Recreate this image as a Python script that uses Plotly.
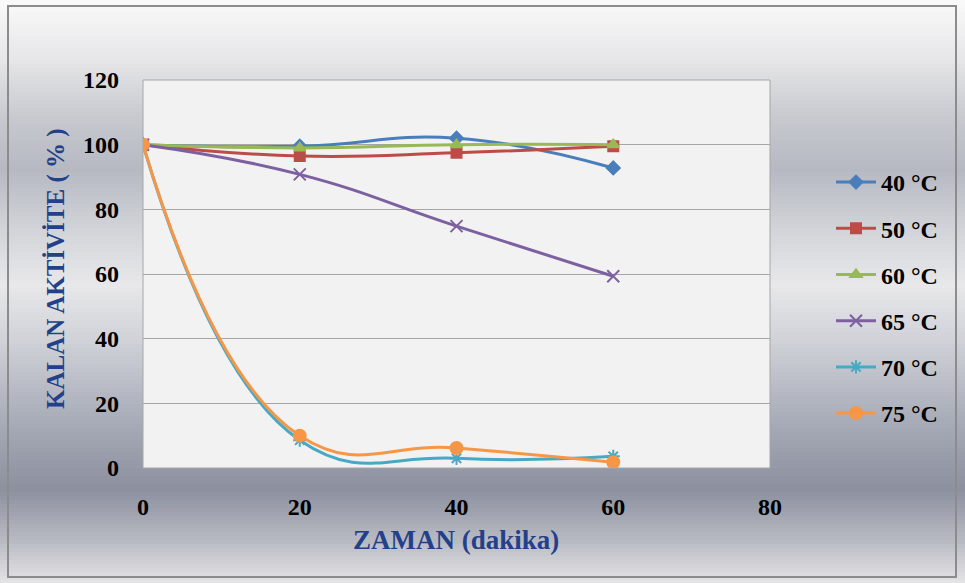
import plotly.graph_objects as go

# ---- data ----
time_min = [0, 20, 40, 60]
series_names = ["40 °C", "50 °C", "60 °C", "65 °C", "70 °C", "75 °C"]
act_40 = [100, 99.5, 102, 92.8]
act_50 = [100, 96.5, 97.5, 99.5]
act_60 = [100, 99, 100, 100]
act_65 = [100, 90.8, 74.8, 59.3]
act_70 = [100, 8.6, 3.0, 3.6]
act_75 = [100, 10.0, 6.2, 1.8]
x_ticks = [0, 20, 40, 60, 80]
y_ticks = [0, 20, 40, 60, 80, 100, 120]

colors = ["#4A7EBB", "#BE4B48", "#98B954", "#7D60A0", "#46AAC5", "#F79646"]
symbols = ["diamond", "square", "triangle-up", "x-thin", "asterisk-open", "circle"]
msizes = [10, 10, 10, 12, 11, 12]
all_vals = [act_40, act_50, act_60, act_65, act_70, act_75]

W, H = 965, 583
L, R, T, B = 143, 770, 80, 468  # plot area in px


def px_x(p):
    return (p - L) / (R - L)


def px_y(p):
    return (B - p) / (B - T)


fig = go.Figure()
for i, (name, vals) in enumerate(zip(series_names, all_vals)):
    fig.add_trace(go.Scatter(
        x=time_min, y=vals, name=name, mode="lines+markers",
        line=dict(color=colors[i], width=3, shape="spline", smoothing=1.3),
        marker=dict(symbol=symbols[i], size=msizes[i], color=colors[i],
                    line=dict(color=colors[i], width=2)),
        legendgroup=name,
    ))

# gradient background bands
stops = [(0, (250, 250, 250)), (60, (230, 230, 232)), (120, (198, 200, 206)),
         (170, (182, 185, 194)), (230, (210, 212, 217)), (285, (232, 232, 234)),
         (340, (208, 210, 216)), (420, (168, 172, 184)), (490, (140, 144, 159)),
         (540, (184, 186, 194)), (583, (228, 228, 230))]
shapes = []
step = 4
y = 0
while y < H:
    for j in range(len(stops) - 1):
        if stops[j][0] <= y <= stops[j + 1][0]:
            y0, c0 = stops[j]
            y1, c1 = stops[j + 1]
            t = (y + step / 2 - y0) / (y1 - y0)
            t = min(max(t, 0), 1)
            c = tuple(int(round(c0[k] + (c1[k] - c0[k]) * t)) for k in range(3))
            break
    shapes.append(dict(type="rect", xref="paper", yref="paper", layer="below",
                       x0=px_x(-2), x1=px_x(W + 2), y0=px_y(y + step + 0.5), y1=px_y(y),
                       fillcolor="rgb(%d,%d,%d)" % c, line=dict(width=0)))
    y += step

# plot area
shapes.append(dict(type="rect", xref="paper", yref="paper", layer="below",
                   x0=0, x1=1, y0=0, y1=1, fillcolor="#F2F2F2",
                   line=dict(color="#A6A6A6", width=1)))
# outer border
shapes.append(dict(type="rect", xref="paper", yref="paper", layer="below",
                   x0=px_x(8), x1=px_x(956), y0=px_y(577), y1=px_y(6),
                   fillcolor="rgba(0,0,0,0)", line=dict(color="#8C8C8C", width=2)))

font_serif = "Times New Roman, Liberation Serif, DejaVu Serif, serif"

fig.update_layout(
    width=W, height=H,
    margin=dict(l=L, r=W - R, t=T, b=H - B),
    paper_bgcolor="#E6E6E8",
    plot_bgcolor="rgba(0,0,0,0)",
    shapes=shapes,
    showlegend=True,
    legend=dict(x=px_x(831), y=px_y(298), xanchor="left", yanchor="middle",
                bgcolor="rgba(0,0,0,0)", tracegroupgap=12,
                font=dict(family=font_serif, size=24, color="#000000", weight="bold"),
                itemwidth=40),
    font=dict(family=font_serif),
    annotations=[
        dict(text="<b>KALAN AKTİVİTE ( % )</b>", xref="paper", yref="paper",
             x=px_x(56), y=px_y(269), textangle=-90, showarrow=False,
             font=dict(family=font_serif, size=25, color="#23418A"),
             xanchor="center", yanchor="middle"),
        dict(text="<b>ZAMAN (dakika)</b>", xref="paper", yref="paper",
             x=px_x(456), y=px_y(540), showarrow=False,
             font=dict(family=font_serif, size=27, color="#23418A"),
             xanchor="center", yanchor="middle"),
    ],
)
fig.update_xaxes(range=[0, 80], tickvals=x_ticks, ticktext=[str(v) for v in x_ticks],
                 showgrid=False, zeroline=False, showline=False,
                 ticks="", ticklabelstandoff=22,
                 tickfont=dict(family=font_serif, size=24, color="#000000", weight="bold"))
fig.update_yaxes(range=[0, 120], tickvals=y_ticks, ticktext=[str(v) for v in y_ticks],
                 showgrid=True, gridcolor="#A6A6A6", gridwidth=1, zeroline=False,
                 showline=False, ticks="", ticklabelstandoff=23,
                 tickfont=dict(family=font_serif, size=24, color="#000000", weight="bold"))

fig.write_html("out.html", config={"displayModeBar": False},
               post_script="document.body.style.margin='0px';document.body.style.padding='0px';")
